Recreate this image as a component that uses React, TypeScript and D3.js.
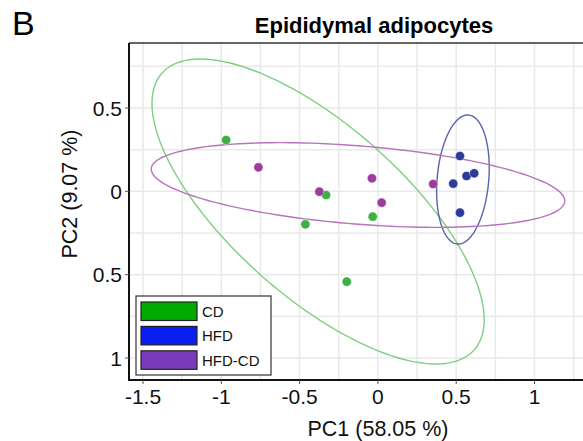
import * as React from "react";
import * as d3 from "d3";

// groups and colours
const groups = ["CD", "HFD", "HFD-CD"];
const pointColors = ["#3cb043", "#2c3b9b", "#9b3d9b"];
const ellipseColors = ["#7fcf80", "#5b63ad", "#b674bd"];
const legendColors = ["#00aa00", "#0a20f2", "#7b3bbd"];

// PCA scores
const cdPC1 = [-0.969, -0.331, -0.033, -0.463, -0.199];
const cdPC2 = [0.308, -0.022, -0.152, -0.198, -0.542];
const hfdPC1 = [0.524, 0.481, 0.566, 0.615, 0.524];
const hfdPC2 = [0.212, 0.046, 0.092, 0.108, -0.128];
const hfdcdPC1 = [-0.763, -0.374, -0.038, 0.024, 0.353];
const hfdcdPC2 = [0.144, -0.002, 0.078, -0.068, 0.044];

// confidence ellipses: centre, half major axis vector, half minor axis vector (data units)
const ellipseCenters = [[-0.382, -0.121], [0.543, 0.071], [-0.127, 0.038]];
const ellipseMajor = [[0.997, -0.83], [-0.036, -0.387], [1.32, -0.099]];
const ellipseMinor = [[-0.362, -0.385], [-0.164, 0.014], [-0.02, -0.234]];

const xTicks = [-1.5, -1, -0.5, 0, 0.5, 1];
const yTicks = [0.5, 0, -0.5, -1];
const yTickLabels = ["0.5", "0", "0.5", "1"];

const width = 583;
const height = 441;
const plotLeft = 129;
const plotTop = 43;
const plotBottom = 380;
const plotRight = 600;

const font = "'Liberation Sans', Arial, sans-serif";

const App = () => {
  const x = d3.scaleLinear().domain([-1.5, 1]).range([143, 534.5]);
  const y = d3.scaleLinear().domain([0.5, -1]).range([108, 358]);

  const series = [
    d3.zip(cdPC1, cdPC2),
    d3.zip(hfdPC1, hfdPC2),
    d3.zip(hfdcdPC1, hfdcdPC2),
  ];

  const line = d3
    .line<number[]>()
    .x((d) => x(d[0]))
    .y((d) => y(d[1]))
    .curve(d3.curveLinearClosed);

  const ellipsePath = (i: number) => {
    const [cx, cy] = ellipseCenters[i];
    const [ax, ay] = ellipseMajor[i];
    const [bx, by] = ellipseMinor[i];
    const pts = d3.range(0, 2 * Math.PI, Math.PI / 90).map((t) => [
      cx + ax * Math.cos(t) + bx * Math.sin(t),
      cy + ay * Math.cos(t) + by * Math.sin(t),
    ]);
    return line(pts);
  };

  const xGrid = d3.range(-1.5, 1.26, 0.25);
  const yGrid = d3.range(-1, 0.76, 0.25);

  return (
    <svg
      width={width}
      height={height}
      style={{ position: "absolute", left: 0, top: 0, background: "#fff" }}
    >
      <text x={12} y={35} fontFamily={font} fontSize={34}>
        B
      </text>
      <text
        x={374}
        y={32.5}
        textAnchor="middle"
        fontFamily={font}
        fontWeight="bold"
        fontSize={22}
      >
        Epididymal adipocytes
      </text>

      {/* grid */}
      <g stroke="#e9e9e9" strokeWidth={1.5}>
        {xGrid.map((v) => (
          <line key={"gx" + v} x1={x(v)} x2={x(v)} y1={plotTop} y2={plotBottom} />
        ))}
        {yGrid.map((v) => (
          <line key={"gy" + v} x1={plotLeft} x2={plotRight} y1={y(v)} y2={y(v)} />
        ))}
      </g>

      {/* ellipses */}
      {groups.map((g, i) => (
        <path key={"e" + g} d={ellipsePath(i) || ""} fill="none" stroke={ellipseColors[i]} strokeWidth={1.4} />
      ))}

      {/* points */}
      {series.map((pts, i) =>
        pts.map((d, j) => (
          <circle
            key={groups[i] + j}
            cx={x(d[0])}
            cy={y(d[1])}
            r={4.6}
            fill={pointColors[i]}
            stroke="#ffffff"
            strokeOpacity={0.5}
            strokeWidth={0.8}
          />
        ))
      )}

      {/* frame */}
      <line x1={plotLeft} x2={plotRight} y1={plotTop} y2={plotTop} stroke="#333" strokeWidth={1.5} />
      <line x1={plotLeft} x2={plotRight} y1={plotBottom} y2={plotBottom} stroke="#111" strokeWidth={2} />
      <line x1={plotLeft} x2={plotLeft} y1={plotTop} y2={plotBottom + 1} stroke="#111" strokeWidth={2} />

      {/* y axis */}
      {yTicks.map((v, i) => (
        <g key={"yt" + v}>
          <line x1={plotLeft - 4} x2={plotLeft} y1={y(v)} y2={y(v)} stroke="#555" strokeWidth={1} />
          <text
            x={plotLeft - 7}
            y={y(v)}
            dy="0.36em"
            textAnchor="end"
            fontFamily={font}
            fontSize={21}
            fill="#111"
          >
            {yTickLabels[i]}
          </text>
        </g>
      ))}

      {/* x axis */}
      {xTicks.map((v) => (
        <g key={"xt" + v}>
          <line x1={x(v)} x2={x(v)} y1={plotBottom} y2={plotBottom + 4} stroke="#555" strokeWidth={1} />
          <text
            x={x(v)}
            y={plotBottom + 24}
            textAnchor="middle"
            fontFamily={font}
            fontSize={21}
            fill="#111"
          >
            {v}
          </text>
        </g>
      ))}

      <text x={378} y={436} textAnchor="middle" fontFamily={font} fontSize={21.5} fill="#111">
        PC1 (58.05 %)
      </text>
      <text
        transform={`translate(${77},${194}) rotate(-90)`}
        textAnchor="middle"
        fontFamily={font}
        fontSize={21.5}
        fill="#111"
      >
        PC2 (9.07 %)
      </text>

      {/* legend */}
      <g>
        <rect x={136} y={296} width={135} height={79} fill="#fff" stroke="#333" strokeWidth={1.2} />
        {groups.map((g, i) => (
          <g key={"lg" + g} transform={`translate(141,${302 + i * 24.4})`}>
            <rect width={56} height={18.5} fill={legendColors[i]} stroke="#222" strokeWidth={1.2} />
            <text x={61} y={9.5} dy="0.36em" fontFamily={font} fontSize={15} fill="#111">
              {g}
            </text>
          </g>
        ))}
      </g>
    </svg>
  );
};

export default App;
